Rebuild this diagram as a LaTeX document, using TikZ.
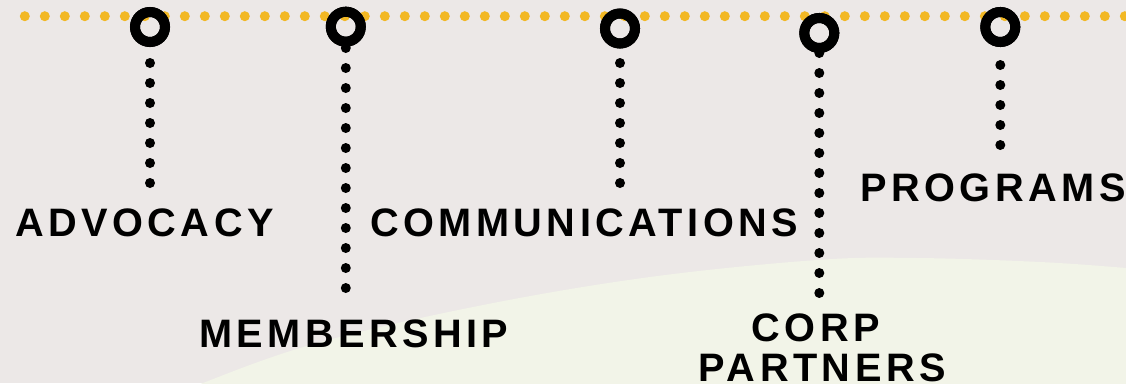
\documentclass[tikz,border=0pt]{standalone}
\usepackage{fontspec}
\setmainfont{Liberation Sans}
\newfontfamily\lblfont{Liberation Sans}[LetterSpace=11.3]
\definecolor{bgc}{HTML}{ECE8E7}
\definecolor{greenc}{HTML}{F2F4E8}
\definecolor{yellowc}{HTML}{F2B824}
\tikzset{
  lbl/.style={inner sep=0pt, anchor=base west, text=black,
    font=\lblfont\bfseries\fontsize{39.7bp}{42bp}\selectfont},
  ring/.style={circle, draw=black, line width=10bp, minimum size=30bp, inner sep=0pt},
  dotline/.style={draw=black, line width=10bp, line cap=round, dash pattern=on 0bp off 20bp},
  yellowdots/.style={draw=yellowc, line width=10bp, line cap=round, dash pattern=on 0bp off 20bp},
}
\begin{document}
\begin{tikzpicture}[x=1bp, y=-1bp]
\useasboundingbox (0,0) rectangle (1126,383);
\fill[bgc] (0,0) rectangle (1126,383);
\fill[greenc] plot[smooth, tension=0.6] coordinates {(170,400) (203,383) (317,343) (483,305) (650,277) (817,260) (917,258) (1040,262) (1126,268) (1150,271)} -- (1150,400) -- cycle;
% yellow dotted line
\coordinate (yl) at (24.8,16.2);
\coordinate (yr) at (1126,16.2);
\draw[yellowdots] (yl) -- (yr);
% rings
\node[ring] (r1) at (150,27) {};
\node[ring] (r2) at (345.8,26.7) {};
\node[ring] (r3) at (620,28.5) {};
\node[ring] (r4) at (819.3,33) {};
\node[ring] (r5) at (1000.3,27) {};
% dotted connector ends
\coordinate (e1) at (150,183.5);
\coordinate (e2) at (345.8,288.5);
\coordinate (e3) at (620,183.5);
\coordinate (e4) at (819.3,293.5);
\coordinate (e5) at (1000.3,145.5);
\draw[dotline] ([yshift=-36bp]r1.center) -- (e1);
\draw[dotline] ([yshift=-21.3bp]r2.center) -- (e2);
\draw[dotline] ([yshift=-34.5bp]r3.center) -- (e3);
\draw[dotline] ([yshift=-20bp]r4.center) -- (e4);
\draw[dotline] ([yshift=-38bp]r5.center) -- (e5);
% redraw rings on top
\draw[black, line width=10bp] (r1.center) circle[radius=15bp];
\draw[black, line width=10bp] (r2.center) circle[radius=15bp];
\draw[black, line width=10bp] (r3.center) circle[radius=15bp];
\draw[black, line width=10bp] (r4.center) circle[radius=15bp];
\draw[black, line width=10bp] (r5.center) circle[radius=15bp];
% labels
\node[lbl] (adv) at (15,236.7) {ADVOCACY};
\node[lbl] (com) at (370,236.7) {COMMUNICATIONS};
\node[lbl] (prg) at (860.3,201.7) {PROGRAMS};
\node[lbl] (mem) at (198.8,347.3) {MEMBERSHIP};
\node[lbl] (corp) at (751.5,341.2) {CORP};
\node[lbl] (prt) at (698.7,381.2) {PARTNERS};
\end{tikzpicture}
\end{document}
